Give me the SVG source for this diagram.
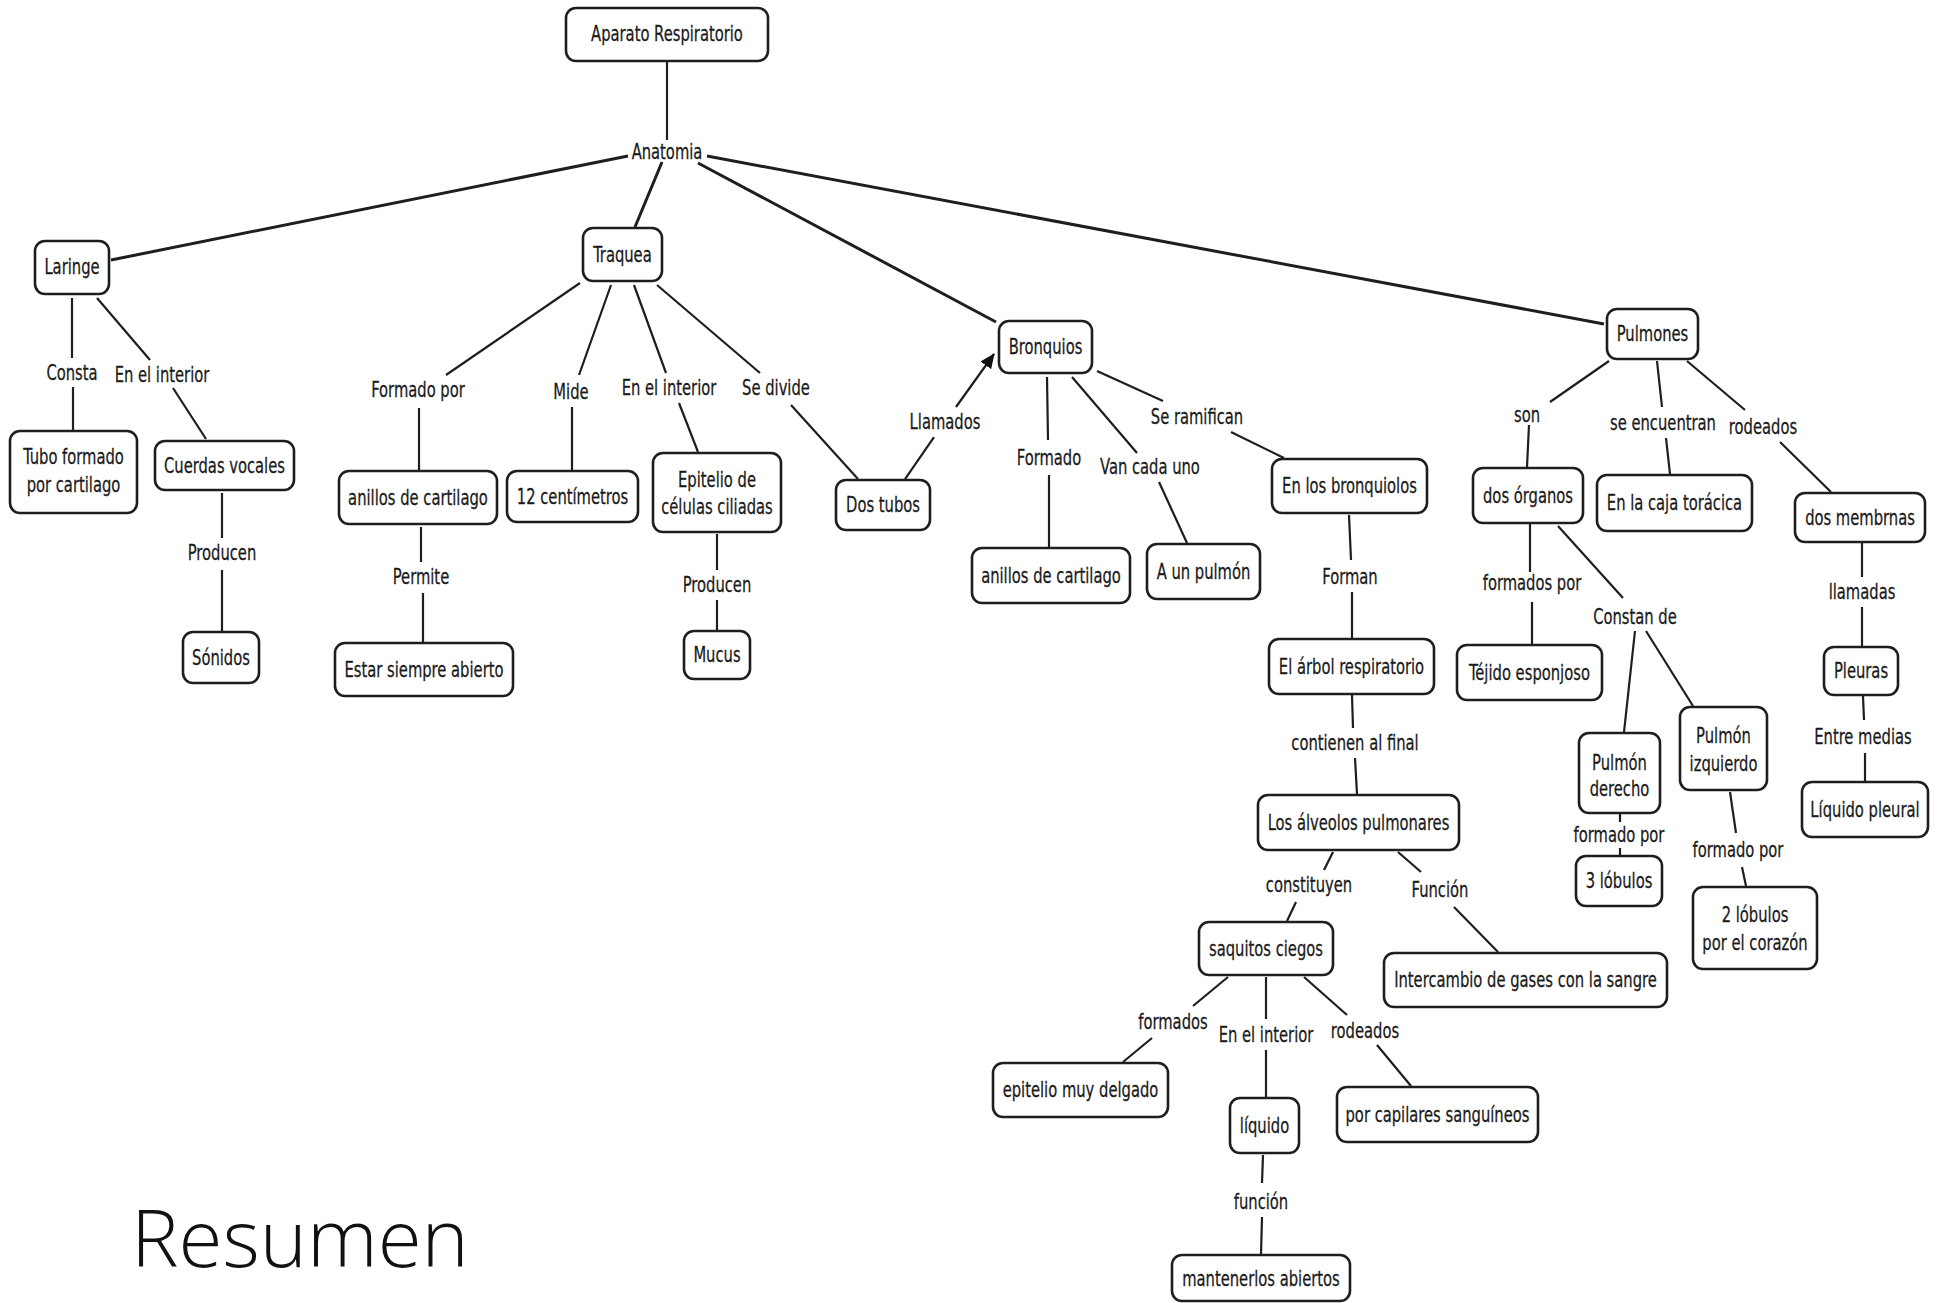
<svg xmlns="http://www.w3.org/2000/svg" width="1940" height="1303" viewBox="0 0 1940 1303">
<style>
.n rect{fill:#fff;stroke:#1e1e1e;stroke-width:2.6}
text{font-family:"DejaVu Sans Condensed","DejaVu Sans",sans-serif;font-stretch:condensed;font-size:20.5px;fill:#1a1a1a;stroke:#1a1a1a;stroke-width:0.25;text-anchor:middle}
.c line{stroke:#1e1e1e;stroke-width:2.2;fill:none}
.c line.t{stroke-width:3}
text.title{font-family:"Open Sans","Liberation Sans",sans-serif;font-weight:300;font-size:80px;font-stretch:normal;text-anchor:start;fill:#111;stroke:none}
</style>
<defs>
<marker id="ah" markerUnits="userSpaceOnUse" markerWidth="16" markerHeight="14" refX="14" refY="6.5" orient="auto">
<path d="M0,0 L15,6.5 L0,13 z" fill="#111"/>
</marker>
</defs>
<rect x="0" y="0" width="1940" height="1303" fill="#fff"/>
<g id="connectors" class="c">
<line x1="667" y1="61" x2="667" y2="140"/>
<line class="t" x1="628" y1="156" x2="111" y2="260"/>
<line class="t" x1="662" y1="162" x2="635" y2="227"/>
<line class="t" x1="698" y1="163" x2="996" y2="322"/>
<line class="t" x1="707" y1="156" x2="1604" y2="324"/>
<line x1="72" y1="298" x2="72" y2="358"/>
<line x1="73" y1="387" x2="73" y2="430"/>
<line x1="97" y1="298" x2="150" y2="360"/>
<line x1="173" y1="388" x2="206" y2="439"/>
<line x1="222" y1="493" x2="222" y2="538"/>
<line x1="222" y1="570" x2="222" y2="631"/>
<line x1="580" y1="283" x2="446" y2="375"/>
<line x1="419" y1="408" x2="419" y2="470"/>
<line x1="611" y1="285" x2="579" y2="375"/>
<line x1="572" y1="407" x2="572" y2="470"/>
<line x1="634" y1="285" x2="666" y2="373"/>
<line x1="679" y1="403" x2="698" y2="452"/>
<line x1="657" y1="285" x2="760" y2="373"/>
<line x1="791" y1="405" x2="858" y2="479"/>
<line x1="421" y1="527" x2="421" y2="562"/>
<line x1="423" y1="593" x2="423" y2="642"/>
<line x1="717" y1="534" x2="717" y2="570"/>
<line x1="717" y1="600" x2="717" y2="630"/>
<line x1="905" y1="479" x2="934" y2="437"/>
<line x1="956" y1="407" x2="994" y2="354" marker-end="url(#ah)"/>
<line x1="1047" y1="377" x2="1048" y2="440"/>
<line x1="1049" y1="475" x2="1049" y2="547"/>
<line x1="1072" y1="377" x2="1137" y2="453"/>
<line x1="1159" y1="482" x2="1187" y2="543"/>
<line x1="1097" y1="371" x2="1163" y2="401"/>
<line x1="1231" y1="432" x2="1284" y2="458"/>
<line x1="1349" y1="515" x2="1351" y2="560"/>
<line x1="1352" y1="592" x2="1352" y2="638"/>
<line x1="1352" y1="695" x2="1353" y2="728"/>
<line x1="1355" y1="758" x2="1357" y2="794"/>
<line x1="1333" y1="852" x2="1324" y2="870"/>
<line x1="1296" y1="902" x2="1287" y2="921"/>
<line x1="1398" y1="852" x2="1421" y2="872"/>
<line x1="1454" y1="907" x2="1498" y2="952"/>
<line x1="1228" y1="977" x2="1193" y2="1006"/>
<line x1="1152" y1="1038" x2="1123" y2="1062"/>
<line x1="1266" y1="977" x2="1266" y2="1019"/>
<line x1="1266" y1="1050" x2="1266" y2="1097"/>
<line x1="1304" y1="977" x2="1347" y2="1015"/>
<line x1="1377" y1="1045" x2="1411" y2="1086"/>
<line x1="1263" y1="1155" x2="1262" y2="1183"/>
<line x1="1262" y1="1217" x2="1261" y2="1254"/>
<line x1="1609" y1="361" x2="1550" y2="402"/>
<line x1="1529" y1="425" x2="1527" y2="467"/>
<line x1="1657" y1="361" x2="1662" y2="407"/>
<line x1="1666" y1="438" x2="1670" y2="474"/>
<line x1="1687" y1="361" x2="1745" y2="410"/>
<line x1="1780" y1="442" x2="1831" y2="492"/>
<line x1="1862" y1="543" x2="1862" y2="577"/>
<line x1="1862" y1="607" x2="1862" y2="646"/>
<line x1="1863" y1="696" x2="1864" y2="720"/>
<line x1="1865" y1="753" x2="1865" y2="781"/>
<line x1="1530" y1="524" x2="1530" y2="572"/>
<line x1="1532" y1="602" x2="1532" y2="644"/>
<line x1="1558" y1="526" x2="1623" y2="598"/>
<line x1="1635" y1="631" x2="1624" y2="732"/>
<line x1="1646" y1="631" x2="1693" y2="706"/>
<line x1="1620" y1="814" x2="1620" y2="822"/>
<line x1="1620" y1="848" x2="1620" y2="855"/>
<line x1="1730" y1="792" x2="1736" y2="833"/>
<line x1="1742" y1="867" x2="1746" y2="886"/>
</g>
<g id="labels" transform="scale(0.8 1)">
<text x="833.75" y="159.5">Anatomia</text>
<text x="90" y="380.5">Consta</text>
<text x="202.5" y="382.5">En el interior</text>
<text x="277.5" y="560.5">Producen</text>
<text x="522.5" y="397.5">Formado por</text>
<text x="713.75" y="399.5">Mide</text>
<text x="836.25" y="395.5">En el interior</text>
<text x="970" y="395.5">Se divide</text>
<text x="526.25" y="584.5">Permite</text>
<text x="896.25" y="592.5">Producen</text>
<text x="1181.25" y="429.5">Llamados</text>
<text x="1311.25" y="465.5">Formado</text>
<text x="1437.5" y="474.5">Van cada uno</text>
<text x="1496.25" y="424.5">Se ramifican</text>
<text x="1687.5" y="584.5">Forman</text>
<text x="1693.75" y="750.5">contienen al final</text>
<text x="1636.25" y="892.5">constituyen</text>
<text x="1800" y="897.5">Función</text>
<text x="1466.25" y="1029.5">formados</text>
<text x="1582.5" y="1042.5">En el interior</text>
<text x="1706.25" y="1038.5">rodeados</text>
<text x="1576.25" y="1209.5">función</text>
<text x="1908.75" y="422.5">son</text>
<text x="2078.75" y="430.5">se encuentran</text>
<text x="2203.75" y="434.5">rodeados</text>
<text x="1915" y="590.5">formados por</text>
<text x="2043.75" y="624.5">Constan de</text>
<text x="2023.75" y="842.5">formado por</text>
<text x="2172.5" y="857.5">formado por</text>
<text x="2327.5" y="599.5">llamadas</text>
<text x="2328.75" y="744.5">Entre medias</text>
</g>
<g id="n1" class="n"><rect x="566" y="8" width="202" height="53" rx="10"/><text transform="scale(0.8 1)" x="833.75" y="41.5">Aparato Respiratorio</text></g>
<g id="n2" class="n"><rect x="35" y="241" width="74" height="53" rx="10"/><text transform="scale(0.8 1)" x="90" y="274.5">Laringe</text></g>
<g id="n3" class="n"><rect x="583" y="228" width="79" height="53" rx="10"/><text transform="scale(0.8 1)" x="778.125" y="262">Traquea</text></g>
<g id="n4" class="n"><rect x="999" y="321" width="93" height="52" rx="10"/><text transform="scale(0.8 1)" x="1306.875" y="354.5">Bronquios</text></g>
<g id="n5" class="n"><rect x="1607" y="309" width="91" height="50" rx="10"/><text transform="scale(0.8 1)" x="2065.625" y="341.5">Pulmones</text></g>
<g id="n6" class="n"><rect x="10" y="431" width="127" height="82" rx="10"/><text transform="scale(0.8 1)" x="91.875" y="464.5">Tubo formado</text><text transform="scale(0.8 1)" x="91.875" y="492.5">por cartilago</text></g>
<g id="n7" class="n"><rect x="155" y="441" width="139" height="49" rx="10"/><text transform="scale(0.8 1)" x="280.625" y="473">Cuerdas vocales</text></g>
<g id="n8" class="n"><rect x="183" y="632" width="76" height="51" rx="10"/><text transform="scale(0.8 1)" x="276.25" y="665">Sónidos</text></g>
<g id="n9" class="n"><rect x="339" y="471" width="158" height="53" rx="10"/><text transform="scale(0.8 1)" x="522.5" y="505">anillos de cartilago</text></g>
<g id="n10" class="n"><rect x="335" y="643" width="178" height="53" rx="10"/><text transform="scale(0.8 1)" x="530" y="677">Estar siempre abierto</text></g>
<g id="n11" class="n"><rect x="507" y="471" width="131" height="51" rx="10"/><text transform="scale(0.8 1)" x="715.625" y="504">12 centímetros</text></g>
<g id="n12" class="n"><rect x="653" y="453" width="128" height="79" rx="10"/><text transform="scale(0.8 1)" x="896.25" y="487.5">Epitelio de</text><text transform="scale(0.8 1)" x="896.25" y="514.5">células ciliadas</text></g>
<g id="n13" class="n"><rect x="684" y="631" width="66" height="48" rx="10"/><text transform="scale(0.8 1)" x="896.25" y="662.5">Mucus</text></g>
<g id="n14" class="n"><rect x="836" y="480" width="94" height="50" rx="10"/><text transform="scale(0.8 1)" x="1103.75" y="512.5">Dos tubos</text></g>
<g id="n15" class="n"><rect x="972" y="548" width="158" height="55" rx="10"/><text transform="scale(0.8 1)" x="1313.75" y="583">anillos de cartilago</text></g>
<g id="n16" class="n"><rect x="1147" y="544" width="113" height="55" rx="10"/><text transform="scale(0.8 1)" x="1504.375" y="579">A un pulmón</text></g>
<g id="n17" class="n"><rect x="1272" y="459" width="155" height="54" rx="10"/><text transform="scale(0.8 1)" x="1686.875" y="493.5">En los bronquiolos</text></g>
<g id="n18" class="n"><rect x="1269" y="639" width="165" height="55" rx="10"/><text transform="scale(0.8 1)" x="1689.375" y="674">El árbol respiratorio</text></g>
<g id="n19" class="n"><rect x="1258" y="795" width="201" height="55" rx="10"/><text transform="scale(0.8 1)" x="1698.125" y="830">Los álveolos pulmonares</text></g>
<g id="n20" class="n"><rect x="1199" y="922" width="134" height="53" rx="10"/><text transform="scale(0.8 1)" x="1582.5" y="956">saquitos ciegos</text></g>
<g id="n21" class="n"><rect x="1384" y="953" width="283" height="54" rx="10"/><text transform="scale(0.8 1)" x="1906.875" y="987.5">Intercambio de gases con la sangre</text></g>
<g id="n22" class="n"><rect x="993" y="1063" width="175" height="54" rx="10"/><text transform="scale(0.8 1)" x="1350.625" y="1097.5">epitelio muy delgado</text></g>
<g id="n23" class="n"><rect x="1230" y="1098" width="69" height="55" rx="10"/><text transform="scale(0.8 1)" x="1580.625" y="1133">líquido</text></g>
<g id="n24" class="n"><rect x="1337" y="1087" width="201" height="55" rx="10"/><text transform="scale(0.8 1)" x="1796.875" y="1122">por capilares sanguíneos</text></g>
<g id="n25" class="n"><rect x="1172" y="1255" width="178" height="46" rx="10"/><text transform="scale(0.8 1)" x="1576.25" y="1286">mantenerlos abiertos</text></g>
<g id="n26" class="n"><rect x="1473" y="468" width="110" height="55" rx="10"/><text transform="scale(0.8 1)" x="1910" y="503">dos órganos</text></g>
<g id="n27" class="n"><rect x="1597" y="475" width="155" height="56" rx="10"/><text transform="scale(0.8 1)" x="2093.125" y="510.5">En la caja torácica</text></g>
<g id="n28" class="n"><rect x="1795" y="493" width="130" height="49" rx="10"/><text transform="scale(0.8 1)" x="2325" y="525">dos membrnas</text></g>
<g id="n29" class="n"><rect x="1457" y="645" width="145" height="55" rx="10"/><text transform="scale(0.8 1)" x="1911.875" y="680">Téjido esponjoso</text></g>
<g id="n30" class="n"><rect x="1579" y="733" width="81" height="80" rx="10"/><text transform="scale(0.8 1)" x="2024.375" y="770.5">Pulmón</text><text transform="scale(0.8 1)" x="2024.375" y="796.5">derecho</text></g>
<g id="n31" class="n"><rect x="1680" y="707" width="87" height="83" rx="10"/><text transform="scale(0.8 1)" x="2154.375" y="743.5">Pulmón</text><text transform="scale(0.8 1)" x="2154.375" y="771.5">izquierdo</text></g>
<g id="n32" class="n"><rect x="1576" y="856" width="86" height="50" rx="10"/><text transform="scale(0.8 1)" x="2023.75" y="888.5">3 lóbulos</text></g>
<g id="n33" class="n"><rect x="1693" y="887" width="124" height="82" rx="10"/><text transform="scale(0.8 1)" x="2193.75" y="922.5">2 lóbulos</text><text transform="scale(0.8 1)" x="2193.75" y="950.5">por el corazón</text></g>
<g id="n34" class="n"><rect x="1824" y="647" width="74" height="48" rx="10"/><text transform="scale(0.8 1)" x="2326.25" y="678.5">Pleuras</text></g>
<g id="n35" class="n"><rect x="1802" y="782" width="126" height="55" rx="10"/><text transform="scale(0.8 1)" x="2331.25" y="817">Líquido pleural</text></g>
<text class="title" x="131" y="1267">Resumen</text>
</svg>
